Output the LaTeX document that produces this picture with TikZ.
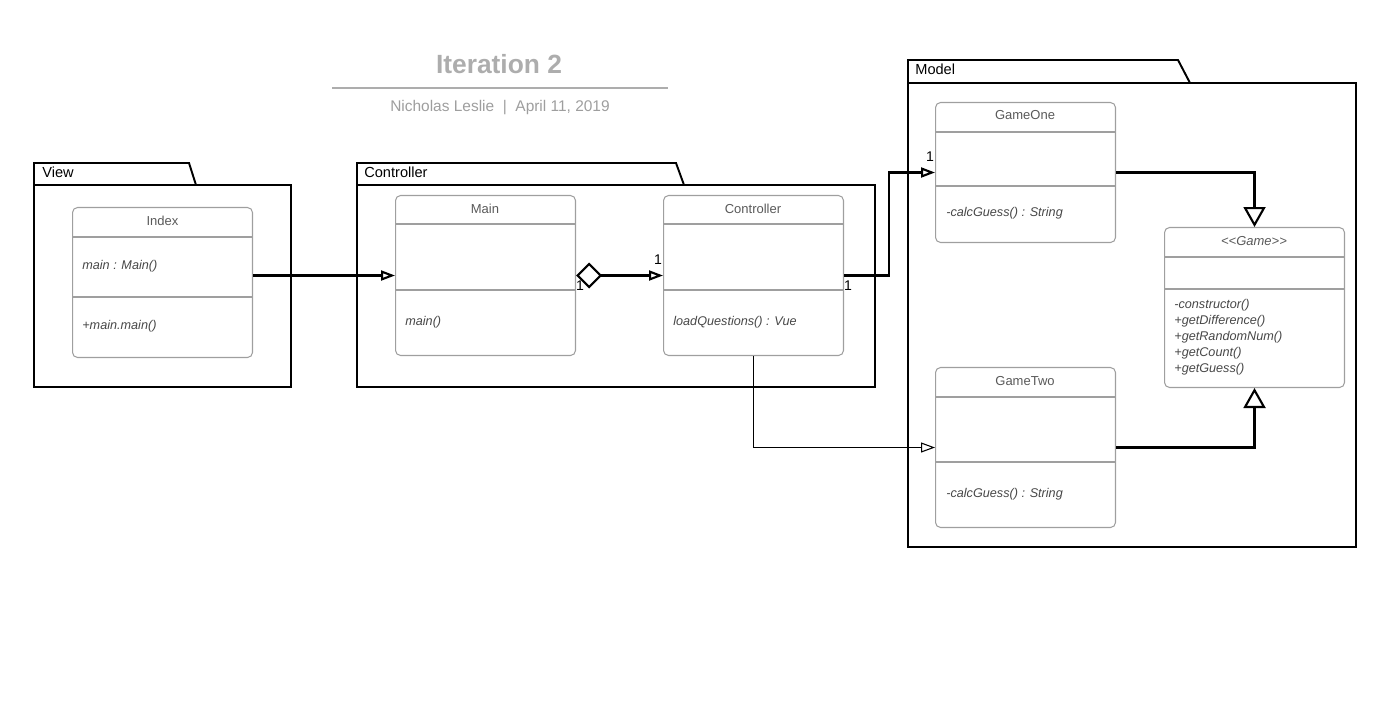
\documentclass[tikz,border=0pt]{standalone}
\usepackage{fontspec}
\setmainfont{Liberation Sans}
\usetikzlibrary{arrows.meta, positioning}

\begin{document}
\begin{tikzpicture}[
    x=0.02cm, y=-0.02cm,
    pkg/.style={draw, line width=1.1pt},
    pkglabel/.style={anchor=west, inner sep=0pt, font=\fontsize{8.3}{10}\selectfont},
    cls/.style={draw=gray!75, rounded corners=0.1cm, line width=0.6pt, anchor=north west, minimum width=3.6cm, inner sep=0pt},
    divider/.style={draw=gray!75, line width=0.6pt},
    clsname/.style={font=\fontsize{7.4}{9}\selectfont, text=black!65, inner sep=0pt},
    member/.style={anchor=west, inner sep=0pt, align=left, text=black!72, font=\fontsize{7.2}{9.07}\selectfont\itshape},
    mult/.style={inner sep=0pt, font=\fontsize{8}{10}\selectfont},
    assoc/.style={line width=1.2pt, -{Triangle[open, length=0.28cm, width=0.2cm]}},
    general/.style={line width=1.2pt, -{Triangle[open, length=0.4cm, width=0.44cm]}}
]
    \useasboundingbox (0,0) rectangle (1389,705);

    % heading
    \node[font=\fontsize{15}{18}\selectfont\bfseries, text=black!32] (title) at (499,64) {Iteration 2};
    \draw[black!32, line width=0.9pt] (332,88) -- (668,88);
    \node[font=\fontsize{8.8}{11}\selectfont, text=black!38] (subtitle) at (500,107.5) {Nicholas Leslie~~|~~April 11, 2019};

    % packages
    \draw[pkg] (34,185) -- (34,163) -- (189,163) -- (196,185);
    \draw[pkg] (34,185) rectangle (291,387);
    \node[pkglabel] (viewlbl) at (42,172) {View};
    \draw[pkg] (357,185) -- (357,163) -- (676,163) -- (684,185);
    \draw[pkg] (357,185) rectangle (875,387);
    \node[pkglabel] (ctrllbl) at (364,172) {Controller};
    \draw[pkg] (908,83) -- (908,60) -- (1178,60) -- (1190,83);
    \draw[pkg] (908,83) rectangle (1356,547);
    \node[pkglabel] (modellbl) at (915,69) {Model};

    % classes
    \node[cls, minimum height=3.0cm] (index) at (72,207) {};
    \draw[divider] (72,237) -- (253,237);
    \draw[divider] (72,297) -- (253,297);
    \node[clsname] (indexname) at (162.5,220.5) {Index};
    \node[member] (indexattr) at (82,266.5) {main : Main()};
    \node[member] (indexop) at (82,326.5) {+main.main()};

    \node[cls, minimum height=3.2cm] (main) at (395,195) {};
    \draw[divider] (395,224) -- (575,224);
    \draw[divider] (395,290) -- (575,290);
    \node[clsname] (mainname) at (485,208.5) {Main};
    \node[member] (mainop) at (405,322.5) {main()};

    \node[cls, minimum height=3.2cm] (controller) at (663,195) {};
    \draw[divider] (663,224) -- (843,224);
    \draw[divider] (663,290) -- (843,290);
    \node[clsname] (controllername) at (753,208.5) {Controller};
    \node[member] (controllerop) at (673,322.5) {loadQuestions() : Vue};

    \node[cls, minimum height=2.8cm] (gameone) at (935,102) {};
    \draw[divider] (935,132) -- (1115,132);
    \draw[divider] (935,186) -- (1115,186);
    \node[clsname] (gameonename) at (1025,115.5) {GameOne};
    \node[member] (gameoneop) at (946,213.5) {-calcGuess() : String};

    \node[cls, minimum height=3.2cm] (gametwo) at (935,367) {};
    \draw[divider] (935,397) -- (1115,397);
    \draw[divider] (935,462) -- (1115,462);
    \node[clsname] (gametwoname) at (1025,381.5) {GameTwo};
    \node[member] (gametwoop) at (946,494.5) {-calcGuess() : String};

    \node[cls, minimum height=3.2cm] (game) at (1164,227) {};
    \draw[divider] (1164,257) -- (1344,257);
    \draw[divider] (1164,289) -- (1344,289);
    \node[clsname, font=\fontsize{7.4}{9}\selectfont\itshape] (gamename) at (1254,241.5) {<{}<Game>{}>};
    \node[member] (gameops) at (1174,337.5) {-constructor()\\+getDifference()\\+getRandomNum()\\+getCount()\\+getGuess()};

    % connectors
    \draw[assoc] (index.east |- main.west) -- (main.west);
    \draw[assoc, {Diamond[open, length=0.52cm, width=0.52cm]}-{Triangle[open, length=0.28cm, width=0.2cm]}] (main.east) -- (controller.west);
    \draw[assoc] (controller.east) -- ++(45,0) |- (gameone.west);
    \draw[assoc, line width=0.6pt] (controller.south) |- (gametwo.west);
    \draw[general] (gameone.east) -| (game.north);
    \draw[general] (gametwo.east) -| (game.south);

    % multiplicities
    \node[mult] (m1) at (580,286) {1};
    \node[mult] (m2) at (658,260) {1};
    \node[mult] (m3) at (848,286) {1};
    \node[mult] (m4) at (930,157) {1};
\end{tikzpicture}
\end{document}
